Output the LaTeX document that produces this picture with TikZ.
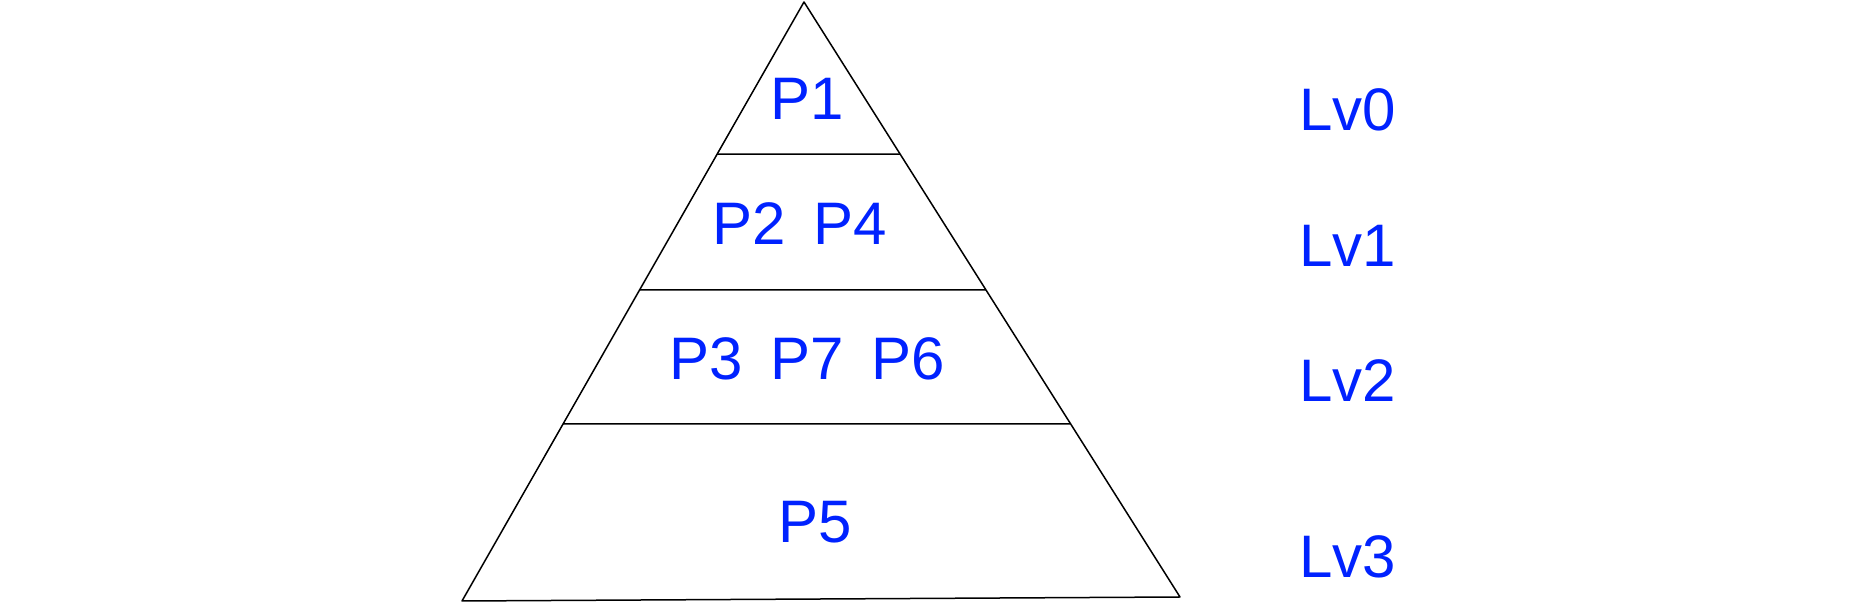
\documentclass[tikz,border=0pt]{standalone}
\usepackage{fontspec}
\setmainfont{Liberation Sans}
\usetikzlibrary{calc}
\definecolor{lvblue}{RGB}{0,34,255}
\begin{document}
\begin{tikzpicture}[x=1pt,y=1pt,
  edge/.style={line width=1.5pt,line join=round},
  lbl/.style={anchor=base west,inner sep=0pt,outer sep=0pt,text=lvblue,font=\fontsize{60}{72}\selectfont}]
\useasboundingbox (0,0) rectangle (1868,604);
\coordinate (A) at (804,602);
\coordinate (B) at (462,3);
\coordinate (C) at (1180,7);
\coordinate (L1) at ($(A)!0.2538!(B)$);
\coordinate (R1) at ($(A)!0.2555!(C)$);
\coordinate (L2) at ($(A)!0.4808!(B)$);
\coordinate (R2) at ($(A)!0.4840!(C)$);
\coordinate (L3) at ($(A)!0.7045!(B)$);
\coordinate (R3) at ($(A)!0.7090!(C)$);
\draw[edge] (A) -- (B) -- (C) -- cycle;
\draw[edge] (L1) -- (R1);
\draw[edge] (L2) -- (R2);
\draw[edge] (L3) -- (R3);
\node[lbl] (p1) at (770,484) {P1};
\node[lbl] (p24) at (712,359) {P2\hspace{28pt}P4};
\node[lbl] (p376) at (669,224) {P3\hspace{28pt}P7\hspace{28pt}P6};
\node[lbl] (p5) at (778,61) {P5};
\node[lbl] (lv0) at (1299,473) {Lv0};
\node[lbl] (lv1) at (1299,337) {Lv1};
\node[lbl] (lv2) at (1299,202) {Lv2};
\node[lbl] (lv3) at (1299,26) {Lv3};
\end{tikzpicture}
\end{document}
